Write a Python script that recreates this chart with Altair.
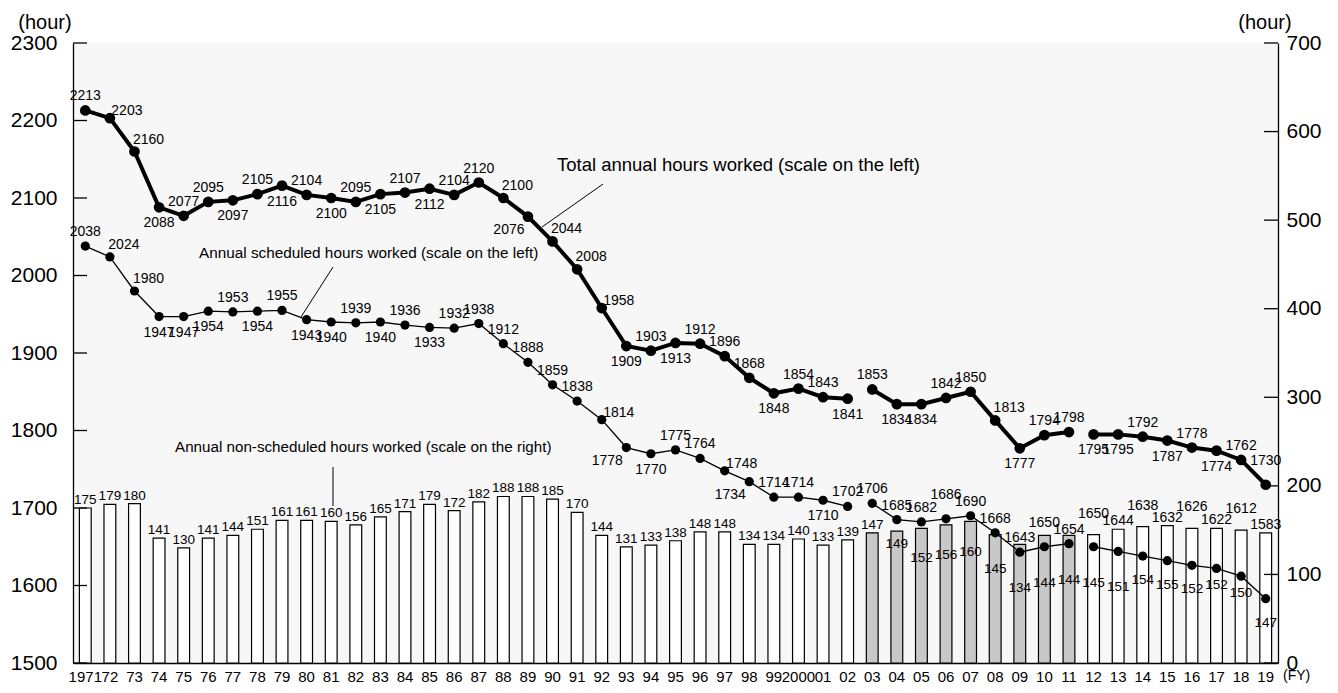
import altair as alt
import pandas as pd

FONT = "Liberation Sans"

YEAR_LABELS = ["1971", "72", "73", "74", "75", "76", "77", "78", "79", "80",
               "81", "82", "83", "84", "85", "86", "87", "88", "89", "90",
               "91", "92", "93", "94", "95", "96", "97", "98", "99", "2000",
               "01", "02", "03", "04", "05", "06", "07", "08", "09", "10",
               "11", "12", "13", "14", "15", "16", "17", "18", "19"]

TOTAL = [2213, 2203, 2160, 2088, 2077, 2095, 2097, 2105, 2116, 2104,
         2100, 2095, 2105, 2107, 2112, 2104, 2120, 2100, 2076, 2044,
         2008, 1958, 1909, 1903, 1913, 1912, 1896, 1868, 1848, 1854,
         1843, 1841, 1853, 1834, 1834, 1842, 1850, 1813, 1777, 1794,
         1798, 1795, 1795, 1792, 1787, 1778, 1774, 1762, 1730]

SCHEDULED = [2038, 2024, 1980, 1947, 1947, 1954, 1953, 1954, 1955, 1943,
             1940, 1939, 1940, 1936, 1933, 1932, 1938, 1912, 1888, 1859,
             1838, 1814, 1778, 1770, 1775, 1764, 1748, 1734, 1714, 1714,
             1710, 1702, 1706, 1685, 1682, 1686, 1690, 1668, 1643, 1650,
             1654, 1650, 1644, 1638, 1632, 1626, 1622, 1612, 1583]

NON_SCHEDULED = [175, 179, 180, 141, 130, 141, 144, 151, 161, 161,
                 160, 156, 165, 171, 179, 172, 182, 188, 188, 185,
                 170, 144, 131, 133, 138, 148, 148, 134, 134, 140,
                 133, 139, 147, 149, 152, 156, 160, 145, 134, 144,
                 144, 145, 151, 154, 155, 152, 152, 150, 147]

# last year of each series period (lines break after these years)
SERIES_BREAKS = ["02", "11"]

LEFT_TICKS = [1500, 1600, 1700, 1800, 1900, 2000, 2100, 2200, 2300]
RIGHT_TICKS = [0, 100, 200, 300, 400, 500, 600, 700]

ANN_TOTAL = "Total annual hours worked (scale on the left)"
ANN_SCHED = "Annual scheduled hours worked (scale on the left)"
ANN_NON = "Annual non-scheduled hours worked (scale on the right)"

# ---- label placement (style only) ----
TOTAL_POS = ("a r ar b a a b a b a b a b a b a a ar bl ar ar r b a b a a a b a "
             "a b a b b a a ar b a a b b a b a b a A").split()
SCHED_POS = ("a ar ar b b b a b a b b a b a b a a a a a a r bl b a a r bl a a "
             "b a a a a A a a a A a T2 T1 T2 T1 T2 T1 T2 T1").split()
BAR_POS = (["t"] * 33) + "n m m m m m m m m m n n n o o n".split()

OFFSETS = {"a": (0, -14), "A": (0, -24), "b": (0, 16), "r": (17, -7),
           "ar": (14, -12), "bl": (-19, 13)}

W, H = 1205, 620

seg = []
s = 0
for lab in YEAR_LABELS:
    seg.append("P%d" % s)
    if lab in SERIES_BREAKS:
        s += 1

df = pd.DataFrame({
    "lab": YEAR_LABELS, "total": TOTAL, "sched": SCHEDULED,
    "non": NON_SCHEDULED, "seg": seg,
    "tpos": TOTAL_POS, "spos": SCHED_POS, "bpos": BAR_POS,
})

xscale = alt.Scale(paddingInner=0.52, paddingOuter=0.26)
LEFT = alt.Scale(domain=[1500, 2300], nice=False, zero=False)
RIGHT = alt.Scale(domain=[0, 700], nice=False)

x_axis = alt.Axis(title=None, labelAngle=0, labelFontSize=15, ticks=False,
                  tickSize=0, labelPadding=6, domainColor="black",
                  domainWidth=1.3, labelOverlap=False, labelColor="black",
                  labelFont=FONT, grid=False)


def X():
    return alt.X("lab:N", sort=YEAR_LABELS, scale=xscale, axis=x_axis)


left_axis = alt.Axis(orient="left", values=LEFT_TICKS, title=None, ticks=False,
                     tickSize=0, labelFontSize=21, labelPadding=16, format="d",
                     domainColor="black", domainWidth=1.3, grid=False,
                     labelColor="black", labelFont=FONT)
right_axis = alt.Axis(orient="right", values=RIGHT_TICKS, title=None,
                      ticks=False, tickSize=0, labelFontSize=21, labelPadding=8,
                      format="d", domainColor="black", domainWidth=1.3,
                      grid=False, labelColor="black", labelFont=FONT)

layers = []

# bars (first, so they carry the x axis)
layers.append(alt.Chart(df).mark_bar(stroke="black", strokeWidth=1.2).encode(
    x=X(),
    y=alt.Y("non:Q", scale=RIGHT, axis=right_axis),
    color=alt.Color("seg:N", scale=alt.Scale(domain=["P0", "P1", "P2"],
                    range=["white", "#c8c8c8", "white"]), legend=None),
))

# inward ticks
layers.append(alt.Chart(pd.DataFrame({"v": LEFT_TICKS})).mark_rule(
    color="black", strokeWidth=1.3).encode(
    y=alt.Y("v:Q", scale=LEFT, axis=None), x=alt.value(0), x2=alt.value(14)))
layers.append(alt.Chart(pd.DataFrame({"v": RIGHT_TICKS})).mark_rule(
    color="black", strokeWidth=1.3).encode(
    y=alt.Y("v:Q", scale=RIGHT, axis=None), x=alt.value(W - 14), x2=alt.value(W)))

# lines and points
layers.append(alt.Chart(df).mark_line(color="black", strokeWidth=1.3).encode(
    x=X(), y=alt.Y("sched:Q", scale=LEFT, axis=None), detail="seg:N"))
layers.append(alt.Chart(df).mark_circle(color="black", opacity=1, size=85).encode(
    x=X(), y=alt.Y("sched:Q", scale=LEFT, axis=None)))
layers.append(alt.Chart(df).mark_line(color="black", strokeWidth=4).encode(
    x=X(), y=alt.Y("total:Q", scale=LEFT, axis=left_axis), detail="seg:N"))
layers.append(alt.Chart(df).mark_circle(color="black", opacity=1, size=115).encode(
    x=X(), y=alt.Y("total:Q", scale=LEFT, axis=None)))

# line labels
for field, posf in (("total", "tpos"), ("sched", "spos")):
    for code, (dx, dy) in OFFSETS.items():
        layers.append(alt.Chart(df).transform_filter(
            alt.datum[posf] == code).mark_text(
            dx=dx, dy=dy, fontSize=14, font=FONT, color="black").encode(
            x=X(), y=alt.Y(field + ":Q", scale=LEFT, axis=None),
            text=alt.Text(field + ":Q", format="d")))

# scheduled labels sitting on top of bars (2012-2019)
for code, dy in (("T1", -8), ("T2", -21)):
    layers.append(alt.Chart(df).transform_filter(
        alt.datum.spos == code).mark_text(
        dy=dy, fontSize=14, font=FONT, color="black").encode(
        x=X(), y=alt.Y("non:Q", scale=RIGHT, axis=None),
        text=alt.Text("sched:Q", format="d")))

# bar labels
layers.append(alt.Chart(df).transform_filter(alt.datum.bpos == "t").mark_text(
    dy=-8, fontSize=13.5, font=FONT, color="black").encode(
    x=X(), y=alt.Y("non:Q", scale=RIGHT, axis=None),
    text=alt.Text("non:Q", format="d")))
for code, dy in (("m", 36), ("n", 24), ("o", 17)):
    layers.append(alt.Chart(df).transform_filter(
        alt.datum.bpos == code).mark_text(
        dy=dy, fontSize=13.5, font=FONT, color="black").encode(
        x=X(), y=alt.Y("sched:Q", scale=LEFT, axis=None),
        text=alt.Text("non:Q", format="d")))

# annotations
ann = pd.DataFrame({"t": [ANN_TOTAL, ANN_SCHED, ANN_NON],
                    "k": ["tot", "sch", "non"]})
ann_xy = {"tot": (484, 122, 18.5), "sch": (126, 210, 15.3), "non": (102, 404, 15.2)}
for k, (ax, ay, fs) in ann_xy.items():
    layers.append(alt.Chart(ann).transform_filter(alt.datum.k == k).mark_text(
        align="left", baseline="middle", fontSize=fs, font=FONT,
        color="black").encode(x=alt.value(ax), y=alt.value(ay), text="t:N"))

leaders = [((530, 141), (469, 184)), ((260, 224), (228, 274)),
           ((260, 424), (260, 463))]
for (x1, y1), (x2, y2) in leaders:
    layers.append(alt.Chart(pd.DataFrame({"a": [0]})).mark_rule(
        color="black", strokeWidth=1).encode(
        x=alt.value(x1), y=alt.value(y1), x2=alt.value(x2), y2=alt.value(y2)))

units = pd.DataFrame({"t": ["(hour)", "(hour)", "(FY)"], "k": ["l", "r", "fy"]})
unit_xy = {"l": (-28, -20, 20, "center"), "r": (1192, -20, 20, "center"),
           "fy": (1210, 633, 14, "left")}
for k, (ux, uy, fs, al) in unit_xy.items():
    layers.append(alt.Chart(units).transform_filter(alt.datum.k == k).mark_text(
        align=al, baseline="middle", fontSize=fs, font=FONT,
        color="black").encode(x=alt.value(ux), y=alt.value(uy), text="t:N"))

chart = alt.layer(*layers).resolve_scale(y="independent").properties(
    width=W, height=H, autosize="none",
    padding={"left": 65, "top": 35, "right": 52, "bottom": 22},
).configure(font=FONT).configure_view(stroke=None, fill="#f7f7f7")

chart.save("out.html", embed_options={"renderer": "svg", "actions": False})
